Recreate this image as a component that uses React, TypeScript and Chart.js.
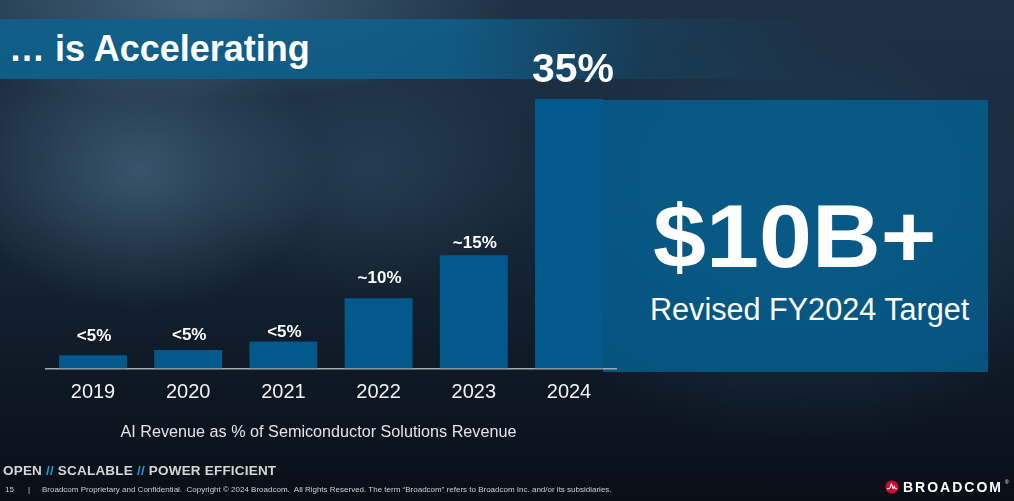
import React, { useEffect, useRef } from "react";
import { Chart, registerables } from "chart.js";

Chart.register(...registerables);

const years: string[] = ["2019", "2020", "2021", "2022", "2023", "2024"];
const aiShare: number[] = [1.7, 2.4, 3.5, 9.1, 14.7, 35];
const shareLabels: string[] = ["<5%", "<5%", "<5%", "~10%", "~15%", "35%"];
const labelGaps: number[] = [14, 10, 4, 15, 7, 17];

const FONT = "'Liberation Sans', Arial, Helvetica, sans-serif";

const barLabelPlugin = {
  id: "barLabels",
  afterDatasetsDraw(chart: any) {
    const ctx = chart.ctx;
    const meta = chart.getDatasetMeta(0);
    ctx.save();
    ctx.fillStyle = "#ffffff";
    ctx.textAlign = "center";
    ctx.textBaseline = "alphabetic";
    meta.data.forEach((bar: any, i: number) => {
      const big = i === meta.data.length - 1;
      ctx.font = `bold ${big ? 41 : 17}px ${FONT}`;
      ctx.fillText(shareLabels[i], bar.x + (big ? 4 : 1), bar.y - labelGaps[i]);
    });
    ctx.restore();
  },
};

function BarChart() {
  const ref = useRef<HTMLCanvasElement | null>(null);
  useEffect(() => {
    if (!ref.current) return;
    const chart = new Chart(ref.current, {
      type: "bar",
      data: {
        labels: years,
        datasets: [
          {
            data: aiShare,
            backgroundColor: "#04598c",
            borderWidth: 0,
            barPercentage: 0.714,
            categoryPercentage: 1,
          },
        ],
      },
      options: {
        animation: false,
        responsive: false,
        maintainAspectRatio: false,
        events: [],
        layout: { padding: { left: 45.4, right: 397.4, top: 99, bottom: 84.6 } },
        plugins: { legend: { display: false }, tooltip: { enabled: false }, title: { display: false } },
        scales: {
          y: { display: false, min: 0, max: 35 },
          x: {
            grid: { display: false, drawTicks: false },
            border: { display: true, color: "#a4aab0", width: 1.6 },
            ticks: {
              color: "#f2f2f2",
              padding: 12,
              font: { family: FONT, size: 20 },
            },
          },
        },
      },
      plugins: [barLabelPlugin],
    });
    return () => chart.destroy();
  }, []);
  return (
    <canvas
      ref={ref}
      width={1014}
      height={501}
      style={{ position: "absolute", left: 0, top: 0, width: 1014, height: 501 }}
    />
  );
}

const abs = (o: React.CSSProperties): React.CSSProperties => ({
  position: "absolute",
  whiteSpace: "nowrap",
  lineHeight: 1,
  fontFamily: FONT,
  ...o,
});

export default function App() {
  useEffect(() => {
    document.body.style.margin = "0";
  }, []);
  return (
    <div
      style={{
        position: "fixed",
        left: 0,
        top: 0,
        width: 1014,
        height: 501,
        overflow: "hidden",
        background: [
          "radial-gradient(ellipse 260px 200px at 140px 170px, rgba(100,140,170,0.42), transparent 70%)",
          "radial-gradient(ellipse 420px 130px at 200px 5px, rgba(95,135,160,0.55), transparent 75%)",
          "radial-gradient(ellipse 240px 180px at 370px 170px, rgba(70,110,140,0.25), transparent 70%)",
          "radial-gradient(ellipse 380px 300px at 800px 240px, rgba(40,85,120,0.45), transparent 70%)",
          "linear-gradient(180deg, #1e3246 0%, #182a3b 40%, #0f1a27 72%, #090f17 100%)",
        ].join(","),
        fontFamily: FONT,
      }}
    >
      {/* title band */}
      <div
        style={{
          position: "absolute",
          left: 0,
          top: 19,
          width: 820,
          height: 60,
          background:
            "linear-gradient(90deg, rgba(14,96,140,0.92) 0%, rgba(14,96,140,0.85) 55%, rgba(14,96,140,0.25) 78%, rgba(14,96,140,0) 100%)",
        }}
      />
      <div style={abs({ left: 9, top: 30.5, fontSize: 36, fontWeight: 700, color: "#ffffff" })}>
        … is Accelerating
      </div>

      {/* right box */}
      <div
        style={{
          position: "absolute",
          left: 603,
          top: 100,
          width: 385,
          height: 272,
          background: "rgba(4,98,148,0.8)",
        }}
      />
      <div
        style={abs({
          left: 653,
          top: 191.5,
          fontSize: 89,
          fontWeight: 700,
          color: "#ffffff",
          transform: "scaleX(1.07)",
          transformOrigin: "left center",
        })}
      >
        $10B+
      </div>
      <div style={abs({ left: 650, top: 294.2, fontSize: 30.6, color: "#ffffff" })}>
        Revised FY2024 Target
      </div>

      <BarChart />

      <div
        style={abs({
          left: 318.5,
          top: 423,
          fontSize: 16.2,
          color: "#e4e4e4",
          transform: "translateX(-50%)",
        })}
      >
        AI Revenue as % of Semiconductor Solutions Revenue
      </div>

      {/* footer */}
      <div style={abs({ left: 3, top: 463.6, fontSize: 13.5, fontWeight: 700, color: "#d6d6d6", letterSpacing: 0.2 })}>
        OPEN <span style={{ color: "#1e9ad6" }}>//</span> SCALABLE{" "}
        <span style={{ color: "#1e9ad6" }}>//</span> POWER EFFICIENT
      </div>
      <div style={abs({ left: 5, top: 485.5, fontSize: 8, color: "#cfcfcf" })}>15</div>
      <div style={abs({ left: 28, top: 485.5, fontSize: 8, color: "#cfcfcf" })}>|</div>
      <div style={abs({ left: 42, top: 485.5, fontSize: 8, color: "#cfcfcf" })}>
        Broadcom Proprietary and Confidential.&nbsp; Copyright © 2024 Broadcom.&nbsp; All Rights Reserved. The term “Broadcom” refers to Broadcom Inc. and/or its subsidiaries.
      </div>

      {/* logo */}
      <svg
        width={14}
        height={14}
        viewBox="0 0 14 14"
        style={{ position: "absolute", left: 885, top: 480 }}
      >
        <circle cx={7} cy={7} r={6.6} fill="#cc092f" />
        <path
          d="M2.2 8.6 H4.2 C5 8.6 5.4 7 5.8 5.2 C6.2 3.4 6.6 3.4 7 5.2 C7.4 7 7.6 8.6 8.2 8.6 C8.6 8.6 9 7 9.3 6.4 C9.6 7.2 10 8.6 10.6 8.6 H11.8"
          stroke="#ffffff"
          strokeWidth={1.1}
          fill="none"
        />
      </svg>
      <div style={abs({ left: 903, top: 479.5, fontSize: 14, fontWeight: 700, color: "#ffffff", letterSpacing: 2 })}>
        BROADCOM
      </div>
      <div style={abs({ left: 1005, top: 480, fontSize: 5, color: "#ffffff" })}>®</div>
    </div>
  );
}
